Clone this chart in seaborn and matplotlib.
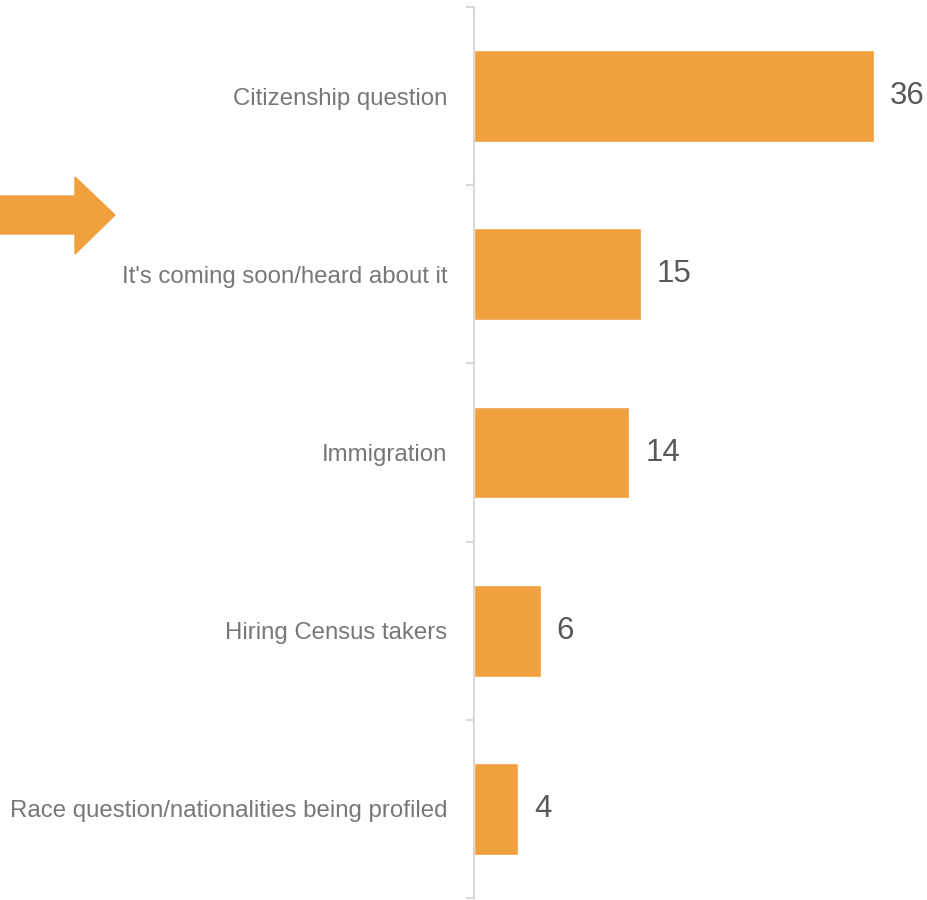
import matplotlib
matplotlib.use('Agg')
import matplotlib.pyplot as plt
import seaborn as sns
import pandas as pd
from matplotlib.patches import Polygon

categories = ['Citizenship question', "It's coming soon/heard about it", 'Immigration',
              'Hiring Census takers', 'Race question/nationalities being profiled']
values = [36, 15, 14, 6, 4]

orange = '#F0A03C'
data = pd.DataFrame({'topic': categories, 'pct': values})

sns.set_theme(style='white')
plt.rcParams['font.family'] = ['Liberation Sans', 'DejaVu Sans']

fig = plt.figure(figsize=(9.27, 9), dpi=100)
ax = fig.add_axes([474 / 927, 2 / 900, 1 - 474 / 927, 891 / 900])
sns.barplot(data=data, y='topic', x='pct', color=orange, saturation=1, width=0.515, ax=ax)
ax.set_xlim(0, 40.8)
ax.set_ylim(4.5, -0.5)
ax.set_xlabel('')
ax.set_ylabel('')
ax.set_xticks([])

for s in ['top', 'right', 'bottom']:
    ax.spines[s].set_visible(False)
ax.spines['left'].set_color('#D9D9D9')
ax.spines['left'].set_linewidth(1.5)

ax.tick_params(axis='y', which='major', length=0, pad=19, labelsize=17.3, labelcolor='#777777')
ax.set_yticks([i - 0.5 for i in range(6)], minor=True)
ax.tick_params(axis='y', which='minor', length=6, width=1.5, color='#D9D9D9', left=True)

ax.bar_label(ax.containers[0], labels=[str(v) for v in values], padding=11.5,
             fontsize=22.5, color='#595959')

# decorative arrow pointing at the second category
pts = [(0, 196), (75, 196), (75, 177), (115, 215), (75, 254), (75, 234), (0, 234)]
pts = [(x / 927, 1 - y / 900) for x, y in pts]
fig.patches.append(Polygon(pts, closed=True, color=orange, transform=fig.transFigure))

fig.savefig('out.png', dpi=100)
